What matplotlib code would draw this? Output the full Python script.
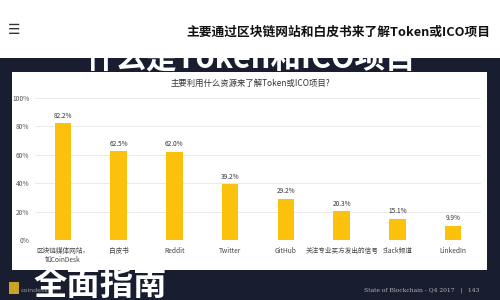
import matplotlib
matplotlib.use('Agg')
import matplotlib.pyplot as plt
from matplotlib.patches import Rectangle

plt.rcParams['font.family'] = ['Noto Sans CJK SC', 'DejaVu Sans']

# data
categories = ['区块链媒体网站，\n如CoinDesk', '白皮书', 'Reddit', 'Twitter', 'GitHub',
              '关注专业买方发出的信号', 'Slack频道', 'LinkedIn']
values = [82.2, 62.5, 62.0, 39.2, 29.2, 20.3, 15.1, 9.9]
yticks = [0, 20, 40, 60, 80, 100]
ytick_labels = ['0%', '20%', '40%', '60%', '80%', '100%']

page_title = '主要通过区块链网站和白皮书来了解Token或ICO项目'
chart_title = '主要利用什么资源来了解Token或ICO项目?'
footer = 'State of Blockchain - Q4 2017   |   143'

navy = '#181d30'
gold = '#fcc10c'

fig = plt.figure(figsize=(5, 3), dpi=100, facecolor=navy)

# big brush heading of the slide, mostly hidden under the page header
fig.text(0.5, 0.772, '什么是Token和ICO项目', color='white', fontsize=22,
         fontweight='black', ha='center', va='baseline', zorder=1)

# white page header (pixels 0..58 from the top)
fig.patches.append(Rectangle((0, 0.807), 1, 0.2, transform=fig.transFigure,
                             facecolor='white', edgecolor='none', zorder=5))
fig.text(0.016, 0.9, '☰', fontsize=10, color='#333333', ha='left', va='center',
         family='DejaVu Sans', zorder=6)
fig.text(0.98, 0.893, page_title, fontsize=9.2, fontweight='bold', color='#111111',
         ha='right', va='center', zorder=6)

# white chart panel
fig.patches.append(Rectangle((0.024, 0.1), 0.95, 0.66, transform=fig.transFigure,
                             facecolor='white', edgecolor='none', zorder=5))
fig.text(0.5, 0.723, chart_title, fontsize=6, color='#333333',
         ha='center', va='center', zorder=6)

ax = fig.add_axes([0.07, 0.2, 0.892, 0.4733])
ax.set_zorder(7)
ax.patch.set_alpha(0)
x = range(len(categories))
ax.bar(x, values, width=0.3, color=gold, zorder=2)
for xi, v in zip(x, values):
    ax.text(xi, v + 2.5, f'{v:.1f}%', ha='center', va='bottom', fontsize=4.7,
            color='#333333')
ax.set_xlim(-0.5, len(categories) - 0.5)
ax.set_ylim(0, 100)
ax.set_yticks(yticks)
ax.set_yticklabels(ytick_labels, fontsize=4.8, color='#555555')
ax.set_xticks(list(x))
ax.set_xticklabels(categories, fontsize=4.8, color='#444444', linespacing=1.15)
ax.tick_params(axis='x', length=0, pad=5)
ax.tick_params(axis='y', length=0, pad=4)
ax.yaxis.grid(True, color='#e6e6e6', linewidth=0.6, zorder=0)
for s in ax.spines.values():
    s.set_visible(False)

# bottom of the slide
fig.patches.append(Rectangle((0.018, 0.02), 0.02, 0.04, transform=fig.transFigure,
                             facecolor='#c9a227', edgecolor='none', zorder=2))
fig.text(0.042, 0.03, 'coindesk', fontsize=4.5, color='#9a9a9a', ha='left',
         va='center', family='DejaVu Sans', zorder=2)
fig.text(0.066, 0.05, '全面指南', color='white', fontsize=24, fontweight='black',
         ha='left', va='center', zorder=3)
fig.text(0.96, 0.033, footer, fontsize=4.3, color='#b8b8b8', ha='right',
         va='center', family='DejaVu Serif', zorder=3)

fig.savefig('out.png', dpi=100, facecolor=navy)
